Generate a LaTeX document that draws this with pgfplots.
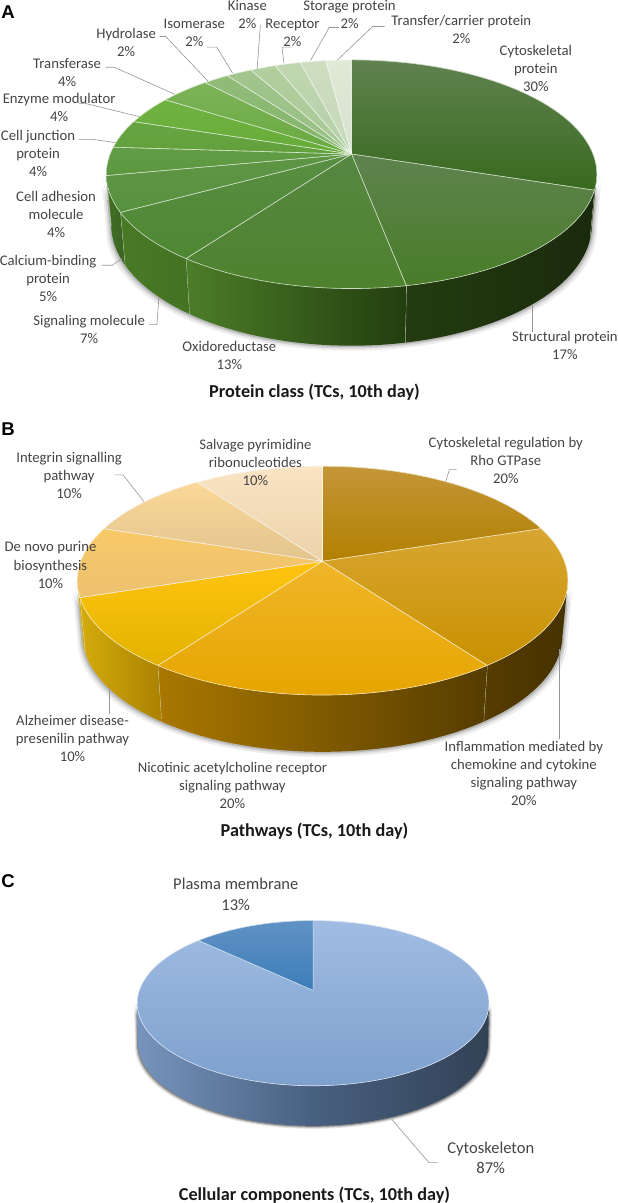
\documentclass[border=0pt]{standalone}
\usepackage{fontspec}
\setmainfont{Carlito}
\newfontfamily\lettfont{Liberation Sans}
\usepackage{pgfplots}
\pgfplotsset{compat=1.18}

% slice colours: top of the wedge, bottom of the wedge
\definecolor{ga1}{RGB}{96,130,80}\definecolor{gb1}{RGB}{56,105,30}
\definecolor{ga2}{RGB}{95,130,78}\definecolor{gb2}{RGB}{72,125,40}
\definecolor{ga3}{RGB}{86,135,66}\definecolor{gb3}{RGB}{78,130,45}
\definecolor{ga4}{RGB}{88,142,66}\definecolor{gb4}{RGB}{78,135,50}
\definecolor{ga5}{RGB}{95,150,70}\definecolor{gb5}{RGB}{88,145,62}
\definecolor{ga6}{RGB}{98,158,70}\definecolor{gb6}{RGB}{92,150,62}
\definecolor{ga7}{RGB}{102,165,65}\definecolor{gb7}{RGB}{98,160,60}
\definecolor{ga8}{RGB}{112,178,66}\definecolor{gb8}{RGB}{102,172,55}
\definecolor{ga9}{RGB}{125,178,90}\definecolor{gb9}{RGB}{104,170,62}
\definecolor{ga10}{RGB}{145,188,120}\definecolor{gb10}{RGB}{130,180,105}
\definecolor{ga11}{RGB}{162,198,142}\definecolor{gb11}{RGB}{150,190,130}
\definecolor{ga12}{RGB}{178,207,158}\definecolor{gb12}{RGB}{168,200,150}
\definecolor{ga13}{RGB}{192,214,176}\definecolor{gb13}{RGB}{182,208,168}
\definecolor{ga14}{RGB}{206,222,192}\definecolor{gb14}{RGB}{196,216,184}
\definecolor{ga15}{RGB}{224,233,214}\definecolor{gb15}{RGB}{214,226,205}
\definecolor{gw1}{RGB}{36,60,16}\definecolor{gw2}{RGB}{26,42,12}
\definecolor{gw3}{RGB}{76,125,40}\definecolor{gw4}{RGB}{34,62,15}
\definecolor{gw5}{RGB}{72,122,38}\definecolor{gw6}{RGB}{68,115,35}
\definecolor{gw7}{RGB}{66,112,36}\definecolor{gw8}{RGB}{58,100,34}

\definecolor{oa1}{RGB}{196,150,56}\definecolor{ob1}{RGB}{178,128,0}
\definecolor{oa2}{RGB}{216,166,50}\definecolor{ob2}{RGB}{200,145,0}
\definecolor{oa3}{RGB}{240,182,42}\definecolor{ob3}{RGB}{230,165,0}
\definecolor{oa4}{RGB}{255,196,16}\definecolor{ob4}{RGB}{226,178,0}
\definecolor{oa5}{RGB}{248,202,104}\definecolor{ob5}{RGB}{236,192,112}
\definecolor{oa6}{RGB}{250,216,152}\definecolor{ob6}{RGB}{226,196,142}
\definecolor{oa7}{RGB}{250,228,196}\definecolor{ob7}{RGB}{235,210,170}
\definecolor{ow1}{RGB}{85,60,0}\definecolor{ow2}{RGB}{70,50,0}
\definecolor{ow3}{RGB}{170,120,0}\definecolor{ow4}{RGB}{85,60,0}
\definecolor{ow5}{RGB}{212,172,12}\definecolor{ow6}{RGB}{170,130,0}

\definecolor{ba1}{RGB}{160,188,226}\definecolor{bb1}{RGB}{125,160,205}
\definecolor{ba2}{RGB}{96,146,196}\definecolor{bb2}{RGB}{60,125,185}
\definecolor{bw1}{RGB}{118,148,188}\definecolor{bw2}{RGB}{50,66,86}\definecolor{bw3}{RGB}{72,96,128}
\definecolor{lbl}{RGB}{68,68,68}
\definecolor{ldr}{RGB}{150,150,150}

% pie geometry: perspective view of a disc, all lengths in image pixels
\newcommand{\setpie}[9]{%
  \def\pcx{#1}\def\pcy{#2}\def\pa{#3}\def\pb{#4}\def\pk{#5}%
  \def\bxs{#6}\def\bys{#7}\def\bh{#8}\def\tR{#9}%
  \pgfmathsetmacro\tL{360-\tR}\def\cum{0}\def\wallopt{}}
\newcommand{\toprim}{\def\mxs{1}\def\mys{1}\def\mh{0}}
\newcommand{\botrim}{\def\mxs{\bxs}\def\mys{\bys}\def\mh{\bh}}
\newcommand{\addarc}[2]{%
  \pgfmathtruncatemacro\nst{max(2,ceil(abs(#2-#1)/2.5))}%
  \foreach \i in {0,...,\nst}{%
    \pgfmathsetmacro\tht{#1+(#2-#1)/\nst*\i}%
    \pgfmathsetmacro\dn{1-\pk*cos(\tht)}%
    \pgfmathsetmacro\xx{\pcx+\mxs*\pa*sin(\tht)/\dn}%
    \pgfmathsetmacro\yy{\pcy-\mys*\pb*cos(\tht)/\dn+\mh}%
    \xdef\ptlist{\ptlist (\xx,\yy)}%
  }}
\newcommand{\drawlist}[1]{%
  \edef\doplot{\noexpand\addplot[forget plot,no markers,#1] coordinates {\ptlist};}\doplot}
% one slice: percent, top colours (2), wall colours (2)
\newcommand{\slice}[5]{%
  \pgfmathsetmacro\tA{\cum*3.6}%
  \pgfmathsetmacro\cum{\cum+#1}%
  \pgfmathsetmacro\tB{\cum*3.6}%
  \pgfmathsetmacro\wA{max(\tA,\tR)}%
  \pgfmathsetmacro\wB{min(\tB,\tL)}%
  \pgfmathtruncatemacro\vis{\wB>\wA}%
  \ifnum\vis=1
    \gdef\ptlist{}\toprim\addarc{\wA}{\wB}\botrim\addarc{\wB}{\wA}%
    \drawlist{draw=none,left color=#4,right color=#5,\wallopt}%
    \ifdim\wB pt<\tL pt
      \gdef\ptlist{}\toprim\addarc{\wB}{\wB}\botrim\addarc{\wB}{\wB}%
      \drawlist{draw=white!80!#5,line width=0.7pt}%
    \fi
  \fi
  \xdef\ptlist{(\pcx,\pcy)}\toprim\addarc{\tA}{\tB}\xdef\ptlist{\ptlist (\pcx,\pcy)}%
  \drawlist{draw=white!72!#3,line width=0.6pt,line join=round,top color=#2,bottom color=#3}}
% faint layer of the soft halo under the disc: growth in px, opacity
\newcommand{\shadowpoly}[2]{%
  \begingroup
  \pgfmathsetmacro\pa{\pa+#1}\botrim
  \pgfmathsetmacro\bh{\bh+#1}%
  \gdef\ptlist{}\addarc{\tR}{\tL}\toprim\addarc{\tL}{\tR}%
  \endgroup
  \drawlist{draw=none,fill=black,fill opacity=#2}}
\newcommand{\leader}[1]{\addplot[forget plot,no markers,ldr,line width=0.6pt] coordinates {#1};}
\newcommand{\lab}[3]{\node[text=lbl,align=center,inner sep=0pt,font=\fontsize{14.7}{18}\selectfont] at (#1,#2) {#3};}
\newcommand{\labc}[3]{\node[text=lbl,align=center,inner sep=0pt,font=\fontsize{16.5}{20.6}\selectfont] at (#1,#2) {#3};}
\newcommand{\ttl}[3]{\node[text=black!90,inner sep=0pt,font=\fontsize{18.2}{20}\selectfont\bfseries] at (#1,#2) {#3};}
\newcommand{\lett}[3]{\node[text=black,inner sep=0pt,font=\fontsize{18.5}{20}\selectfont\lettfont\bfseries] at (#1,#2) {#3};}

\begin{document}
\begin{tikzpicture}
\begin{axis}[
  width=617pt,height=1203pt,scale only axis,
  xmin=0,xmax=617,ymin=0,ymax=1203,y dir=reverse,
  hide axis]

% A: protein class
\setpie{351}{155.7}{241.1}{110.6}{-0.1765}{0.98}{1.06}{49}{100}
\shadowpoly{5}{0.07}\shadowpoly{3}{0.10}\shadowpoly{1.5}{0.14}
\slice{30}{ga1}{gb1}{gw1}{gw2}
\slice{17}{ga2}{gb2}{gw1}{gw2}
\slice{13}{ga3}{gb3}{gw3}{gw4}
\slice{7}{ga4}{gb4}{gw5}{gw6}
\slice{5}{ga5}{gb5}{gw7}{gw8}
\slice{4}{ga6}{gb6}{gw8}{gw8}
\slice{4}{ga7}{gb7}{gw8}{gw8}
\slice{4}{ga8}{gb8}{gw8}{gw8}
\slice{4}{ga9}{gb9}{gw8}{gw8}
\slice{2}{ga10}{gb10}{gw8}{gw8}
\slice{2}{ga11}{gb11}{gw8}{gw8}
\slice{2}{ga12}{gb12}{gw8}{gw8}
\slice{2}{ga13}{gb13}{gw8}{gw8}
\slice{2}{ga14}{gb14}{gw8}{gw8}
\slice{2}{ga15}{gb15}{gw8}{gw8}
\leader{(384,28.3) (372,28.3) (337,61.7)}
\leader{(338.6,29.3) (328.7,29.3) (310,62.3)}
\leader{(291,49) (281.5,49) (283.5,65)}
\leader{(260,27) (256.7,70.7)}
\leader{(206.7,49) (216.5,49) (232.3,75)}
\leader{(159.4,38.3) (165.4,38.3) (207.5,82.7)}
\leader{(105.5,69) (114,69) (174.4,96)}
\leader{(78.7,105) (84.6,105) (139,118.3)}
\leader{(78.7,141) (92.5,141) (115,144.3)}
\leader{(101.6,266.7) (112.2,266.7) (122,260)}
\leader{(148.8,326) (156.7,326) (158.7,298.3)}
\leader{(531.5,333.3) (531.5,305)}
\lett{8}{14}{A}
\lab{460.6}{31}{Transfer/carrier protein\\2\%}
\lab{535}{70}{Cytoskeletal\\protein\\30\%}
\lab{349}{16}{Storage protein\\2\%}
\lab{247}{16}{Kinase\\2\%}
\lab{292}{34.5}{Receptor\\2\%}
\lab{194}{35}{Isomerase\\2\%}
\lab{126}{44}{Hydrolase\\2\%}
\lab{67}{74}{Transferase\\4\%}
\lab{59}{109}{Enzyme modulator\\4\%}
\lab{38}{155}{Cell junction\\protein\\4\%}
\lab{56}{216}{Cell adhesion\\molecule\\4\%}
\lab{48}{280}{Calcium-binding\\protein\\5\%}
\lab{89}{331}{Signaling molecule\\7\%}
\lab{229}{357}{Oxidoreductase\\13\%}
\lab{564}{347}{Structural protein\\17\%}
\ttl{314}{393}{Protein class (TCs, 10th day)}

% B: pathways
\setpie{322}{562.3}{241.5}{111}{-0.169}{0.978}{1.02}{54}{100}
\shadowpoly{5}{0.07}\shadowpoly{3}{0.10}\shadowpoly{1.5}{0.14}
\slice{20}{oa1}{ob1}{ow1}{ow2}
\slice{20}{oa2}{ob2}{ow1}{ow2}
\slice{20}{oa3}{ob3}{ow3}{ow4}
\slice{10}{oa4}{ob4}{ow5}{ow6}
\slice{10}{oa5}{ob5}{ow5}{ow5}
\slice{10}{oa6}{ob6}{ow5}{ow5}
\slice{10}{oa7}{ob7}{ow5}{ow5}
\leader{(456,470.7) (448.8,470.7) (444.9,482.7)}
\leader{(115,476) (122.8,476) (143.7,502.7)}
\leader{(109,715) (109,688.3)}
\leader{(558.3,740) (558.3,650)}
\lett{8}{430.7}{B}
\lab{255}{464}{Salvage pyrimidine\\ribonucleotides\\10\%}
\lab{505}{461.5}{Cytoskeletal regulation by\\Rho GTPase\\20\%}
\lab{69}{476.7}{Integrin signalling\\pathway\\10\%}
\lab{50.4}{566}{De novo purine\\biosynthesis\\10\%}
\lab{72.4}{739}{Alzheimer disease-\\presenilin pathway\\10\%}
\lab{232}{785.7}{Nicotinic acetylcholine receptor\\signaling pathway\\20\%}
\lab{523}{774}{Inflammation mediated by\\chemokine and cytokine\\signaling pathway\\20\%}
\ttl{314}{831.7}{Pathways (TCs, 10th day)}

% C: cellular components
\setpie{312.6}{990.7}{173.5}{80.5}{-0.155}{0.995}{1}{40}{99}
\def\wallopt{middle color=bw3}
\shadowpoly{3}{0.10}\shadowpoly{2}{0.16}\shadowpoly{1}{0.3}
\slice{87}{ba1}{bb1}{bw1}{bw2}
\slice{13}{ba2}{bb2}{bw1}{bw2}
\leader{(437,1162.7) (428.3,1162.7) (391,1119.3)}
\lett{8}{881.7}{C}
\labc{235.4}{894.7}{Plasma membrane\\13\%}
\labc{490}{1158}{Cytoskeleton\\87\%}
\ttl{314}{1195}{Cellular components (TCs, 10th day)}
\end{axis}
\end{tikzpicture}
\end{document}
